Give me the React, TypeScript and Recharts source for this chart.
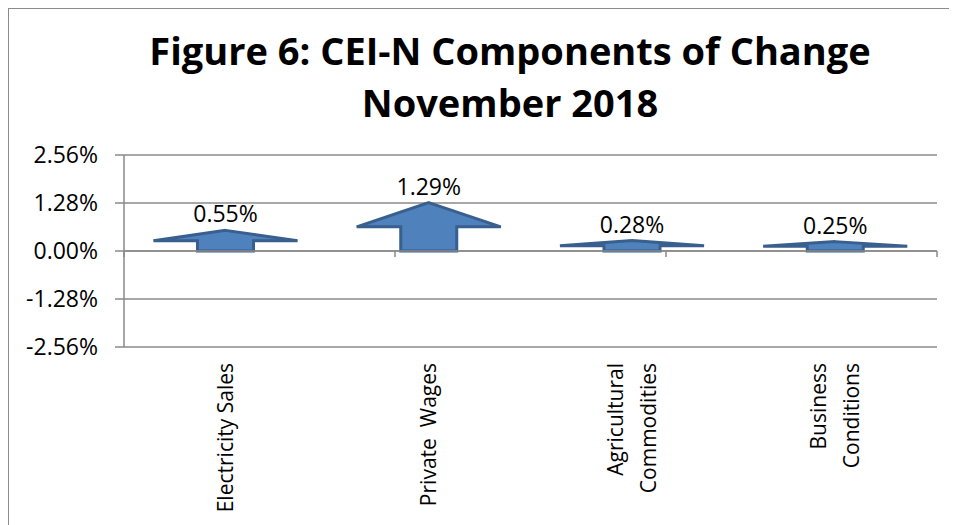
import React from "react"
import {Bar, BarChart, CartesianGrid, LabelList, ReferenceLine, XAxis, YAxis} from "recharts"

const categories = ["Electricity Sales", "Private  Wages", "Agricultural\nCommodities", "Business\nConditions"]
const values = [0.55, 1.29, 0.28, 0.25]
const yTicks = [-2.56, -1.28, 0, 1.28, 2.56]
const titleLines = ["Figure 6: CEI-N Components of Change", "November 2018"]

const data = categories.map((name, i) => ({name, value: values[i]}))
const edges = categories.map((_, i) => i).concat(categories.length)

const FONT = "'Open Sans', 'Noto Sans', sans-serif"
const GRID = "#8a8a8a"
const pct = (v: number) => `${v.toFixed(2)}%`

function Arrow(props: any) {
    const {x, y, width, height} = props
    if (!height) return null
    const cx = x + width / 2
    const hw = width * 0.355
    const sw = width * 0.138
    const bottom = y + height
    const neck = y + height * 0.5
    const d = `M${cx},${y} L${cx + hw},${neck} L${cx + sw},${neck} L${cx + sw},${bottom} ` +
        `L${cx - sw},${bottom} L${cx - sw},${neck} L${cx - hw},${neck} Z`
    return <path d={d} fill="#4f81bd" stroke="#385f8e" strokeWidth={3} strokeLinejoin="miter"/>
}

function CategoryTick(props: any) {
    const {x, y, payload} = props
    const lines = String(payload.value).split("\n")
    const gap = 33
    return (
        <g transform={`translate(${x},${y + 16}) rotate(-90)`}>
            {lines.map((line, i) => (
                <text key={i} x={0} y={(i - (lines.length - 1) / 2) * gap} dy="0.35em"
                      textAnchor="end" fontFamily={FONT} fontSize={21} fill="#000"
                      style={{whiteSpace: "pre"}}>
                    {line}
                </text>
            ))}
        </g>
    )
}

export default function App() {
    return (
        <div style={{position: "relative", width: 950, height: 518, marginLeft: -1, marginTop: -1, background: "#fff"}}>
            <div style={{
                position: "absolute", left: 0, top: 0, width: 950, height: 518, boxSizing: "border-box",
                borderLeft: "2px solid #8c8c8c", borderTop: "2px solid #8c8c8c",
            }}/>
            <div style={{
                position: "absolute", left: 53, top: 17, width: 900, textAlign: "center",
                fontFamily: FONT, fontWeight: 700, fontSize: 38, lineHeight: "52px", color: "#000",
            }}>
                {titleLines.map((t) => <div key={t}>{t}</div>)}
            </div>
            <div style={{position: "absolute", left: 0, top: 0}}>
                <BarChart width={950} height={518} data={data} barCategoryGap={0}
                          margin={{top: 148, right: 20, left: 17, bottom: 8}}>
                    <CartesianGrid vertical={false} stroke={GRID} strokeWidth={1.5}/>
                    <XAxis dataKey="name" height={170} axisLine={false} tickLine={false}
                           tickSize={0} tickMargin={0} interval={0} tick={<CategoryTick/>}/>
                    <XAxis xAxisId="edge" type="number" domain={[0, categories.length]} hide/>
                    <YAxis domain={[-2.56, 2.56]} ticks={yTicks} width={100} tickFormatter={pct}
                           tickSize={9} tickMargin={17} interval={0}
                           axisLine={{stroke: GRID, strokeWidth: 1.5}} tickLine={{stroke: GRID, strokeWidth: 1.5}}
                           tick={{fontFamily: FONT, fontSize: 23, fill: "#000"}}/>
                    <ReferenceLine y={0} stroke={GRID} strokeWidth={1.5}/>
                    {edges.map((e) => (
                        <ReferenceLine key={e} xAxisId="edge" stroke={GRID} strokeWidth={1.5}
                                       segment={[{x: e, y: 0}, {x: e, y: -0.16}]}/>
                    ))}
                    <Bar dataKey="value" shape={<Arrow/>} isAnimationActive={false}>
                        <LabelList dataKey="value" position="top" offset={8} formatter={pct}
                                   fontFamily={FONT} fontSize={23} fill="#000"/>
                    </Bar>
                </BarChart>
            </div>
        </div>
    )
}
